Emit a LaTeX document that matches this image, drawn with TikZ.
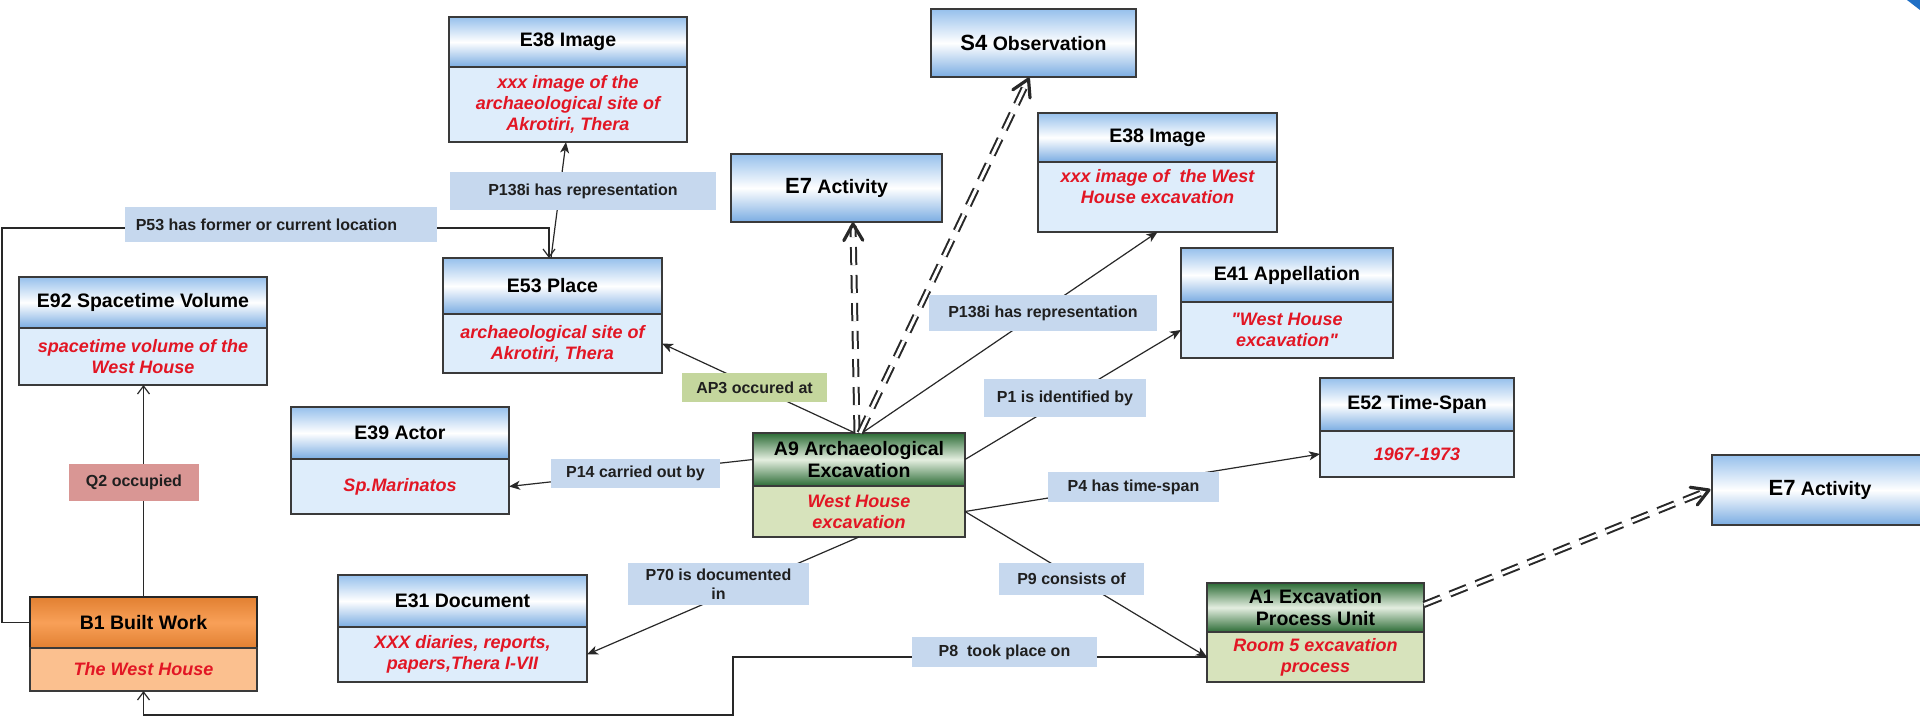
\documentclass[tikz,border=0pt]{standalone}
\usepackage{fontspec}
\setmainfont{Liberation Sans}[Ligatures=TeXOff]
\usetikzlibrary{calc,arrows.meta}
\definecolor{hbA}{RGB}{150,192,236}
\definecolor{hbB}{RGB}{122,172,226}
\definecolor{bodyblue}{RGB}{222,237,251}
\definecolor{lblblue}{RGB}{198,216,238}
\definecolor{lblgreen}{RGB}{196,214,157}
\definecolor{lblpink}{RGB}{217,150,148}
\definecolor{txtred}{RGB}{226,22,36}
\definecolor{bordergray}{RGB}{58,58,58}
\definecolor{greendark}{RGB}{44,108,54}
\definecolor{greenlight}{RGB}{228,238,224}
\definecolor{greenbody}{RGB}{215,227,188}
\definecolor{orangeA}{RGB}{226,128,50}
\definecolor{orangeM}{RGB}{248,160,88}
\definecolor{orangebody}{RGB}{251,192,143}
\definecolor{linkgray}{RGB}{40,40,40}
\definecolor{cornerblue}{RGB}{31,111,197}
\newcommand\hdrfont{\fontsize{19.5}{22}\selectfont\bfseries}
\newcommand\bigfont{\fontsize{22}{26}\selectfont\bfseries}
\newcommand\twobox[9]{%
  \pgfmathsetmacro\cbw{#3-#2}%
  \pgfmathsetmacro\chh{#5-#4}%
  \pgfmathsetmacro\cbh{#6-#5}%
  \node[hdr#9, minimum width=\cbw pt, minimum height=\chh pt, anchor=north west] (#1h) at (#2,#4) {#7};
  \node[body#9, minimum width=\cbw pt, minimum height=\cbh pt, anchor=north west] (#1b) at (#2,#5) {#8};
}
\newcommand\onebox[6]{%
  \pgfmathsetmacro\cbw{#3-#2}%
  \pgfmathsetmacro\cbh{#5-#4}%
  \node[hdrB, minimum width=\cbw pt, minimum height=\cbh pt, anchor=north west] (#1) at (#2,#4) {#6};
}
\newcommand\mklabel[7]{%
  \pgfmathsetmacro\cbw{#3-#2}%
  \pgfmathsetmacro\cbh{#5-#4}%
  \node[#7, minimum width=\cbw pt, minimum height=\cbh pt, anchor=north west] (#1) at (#2,#4) {#6};
}
\newcommand\dtip[2]{\draw[dtipstyle] ($(#1)!19pt!30:(#2)$) -- (#1) -- ($(#1)!19pt!-30:(#2)$);}
\tikzset{
  boxborder/.style={draw=bordergray, line width=1.3pt, inner sep=0pt, outer sep=0pt, align=center},
  hdrB/.style={boxborder, top color=hbA, bottom color=hbB, middle color=white, font=\hdrfont, text=black},
  bodyB/.style={boxborder, fill=bodyblue, font=\fontsize{18}{21}\selectfont\bfseries\itshape, text=txtred},
  hdrG/.style={boxborder, top color=greendark, bottom color=greendark, middle color=greenlight, font=\hdrfont, text=black},
  bodyG/.style={boxborder, fill=greenbody, font=\fontsize{18}{21}\selectfont\bfseries\itshape, text=txtred},
  hdrO/.style={boxborder, draw=black!85, line width=1.8pt, top color=orangeA, bottom color=orangeA, middle color=orangeM, font=\hdrfont, text=black},
  bodyO/.style={boxborder, fill=orangebody, font=\fontsize{18}{21}\selectfont\bfseries\itshape, text=txtred},
  lbl/.style={fill=lblblue, inner sep=0pt, outer sep=0pt, align=center, font=\fontsize{16}{19}\selectfont\bfseries, text=black!88},
  lblG/.style={lbl, fill=lblgreen},
  lblP/.style={lbl, fill=lblpink},
  link/.style={draw=linkgray, line width=1.2pt, -{Stealth[length=11pt, width=9pt, inset=3pt]}},
  openlink/.style={draw=linkgray, line width=1.2pt, -{Straight Barb[length=8pt, width=12pt]}},
  dashlink/.style={draw=linkgray, line width=2pt, double=white, double distance=3pt, dash pattern=on 18pt off 10pt},
  dtipstyle/.style={draw=linkgray, line width=3.2pt, line cap=round, line join=round}
}
\begin{document}
\begin{tikzpicture}[x=1pt, y=-1pt]
\useasboundingbox (0,0) rectangle (1920,717);
\fill[white] (0,0) rectangle (1920,717);
\fill[cornerblue] (1907,0) -- (1920,0) -- (1920,10) -- cycle;

% class boxes
\twobox{e38a}{449}{687}{17}{67}{142}{E38 Image}{xxx image of the\\archaeological site of\\Akrotiri, Thera}{B}
\twobox{e92}{19}{267}{277}{328}{385}{E92 Spacetime Volume}{spacetime volume of the\\West House}{B}
\twobox{e53}{443}{662}{258}{314}{373}{E53 Place}{archaeological site of\\Akrotiri, Thera}{B}
\twobox{e39}{291}{509}{407}{459}{514}{E39 Actor}{Sp.Marinatos}{B}
\twobox{e31}{338}{587}{575}{627}{682}{E31 Document}{XXX diaries, reports,\\papers,Thera I-VII}{B}
\twobox{b1}{30}{257}{597}{648}{691}{B1 Built Work}{The West House}{O}
\twobox{a9}{753}{965}{433}{486}{537}{A9 Archaeological\\Excavation}{West House\\excavation}{G}
\twobox{a1}{1207}{1424}{583}{632}{682}{A1 Excavation\\Process Unit}{Room 5 excavation\\process}{G}
\twobox{e38b}{1038}{1277}{113}{162}{232}{E38 Image}{xxx image of~~the West\\House excavation\\\mbox{}}{B}
\twobox{e41}{1181}{1393}{248}{302}{358}{E41 Appellation}{"West House\\excavation"}{B}
\twobox{e52}{1320}{1514}{378}{431}{477}{E52 Time-Span}{1967-1973}{B}
\onebox{s4}{931}{1136}{9}{77}{{\bigfont S4} Observation}
\onebox{e7a}{731}{942}{154}{222}{{\bigfont E7} Activity}
\onebox{e7b}{1712}{1928}{455}{525}{{\bigfont E7} Activity}

% connectors
\draw[openlink] (b1h.west) -| (2,228) -| ([xshift=-3.5pt]e53h.north);
\draw[openlink] (b1h.north) -- (b1h.north |- e92b.south);
\draw[link] ([xshift=-1.5pt]e53h.north) -- ([xshift=-2pt]e38ab.south);
\draw[link] ([xshift=-4pt]a9h.north) -- (e53b.east);
\draw[link] ([xshift=3pt]a9h.north) -- (e38bb.south);
\draw[link] (a9h.east) -- (e41b.west);
\draw[link] (a9h.west) -- (e39b.east);
\draw[link] (a9b.east) -- (e52b.west);
\draw[link] (a9b.east) -- (a1b.west);
\draw[link] (a9b.south) -- (e31b.east);
\draw[openlink] (a1b.west) -| (733,715) -| (b1b.south);

% double dashed connectors
\coordinate (d1s) at ([xshift=-2pt]a9h.north);
\coordinate (d1t) at ($(e7a.south)+(16.5,2)$);
\coordinate (d2s) at ([xshift=1pt]a9h.north);
\coordinate (d2t) at ($(s4.south)+(-5,2)$);
\coordinate (d3s) at ($(a1h.east)+(0,-3)$);
\coordinate (d3t) at ($(e7b.west)+(-3,0)$);
\draw[dashlink] (d1s) -- ($(d1t)!2pt!(d1s)$);
\draw[dashlink] (d2s) -- ($(d2t)!2pt!(d2s)$);
\draw[dashlink] (d3s) -- ($(d3t)!2pt!(d3s)$);
\dtip{d1t}{d1s}
\dtip{d2t}{d2s}
\dtip{d3t}{d3s}

% labels
\mklabel{lp138a}{450}{716}{172}{210}{P138i has representation}{lbl}
\mklabel{lp53}{125}{437}{207}{242}{P53 has former or current location\hspace*{29pt}}{lbl}
\mklabel{lap3}{682}{827}{373}{402}{AP3 occured at}{lblG}
\mklabel{lp138b}{929}{1157}{295}{331}{P138i has representation}{lbl}
\mklabel{lp1}{984}{1146}{379}{417}{P1 is identified by}{lbl}
\mklabel{lp14}{551}{720}{459}{488}{P14 carried out by}{lbl}
\mklabel{lp4}{1048}{1219}{472}{502}{P4 has time-span}{lbl}
\mklabel{lp70}{628}{809}{563}{605}{P70 is documented\\in}{lbl}
\mklabel{lp9}{999}{1144}{563}{595}{P9 consists of}{lbl}
\mklabel{lp8}{912}{1097}{637}{667}{P8~~took place on}{lbl}
\mklabel{lq2}{69}{199}{464}{501}{Q2 occupied}{lblP}
\end{tikzpicture}
\end{document}
